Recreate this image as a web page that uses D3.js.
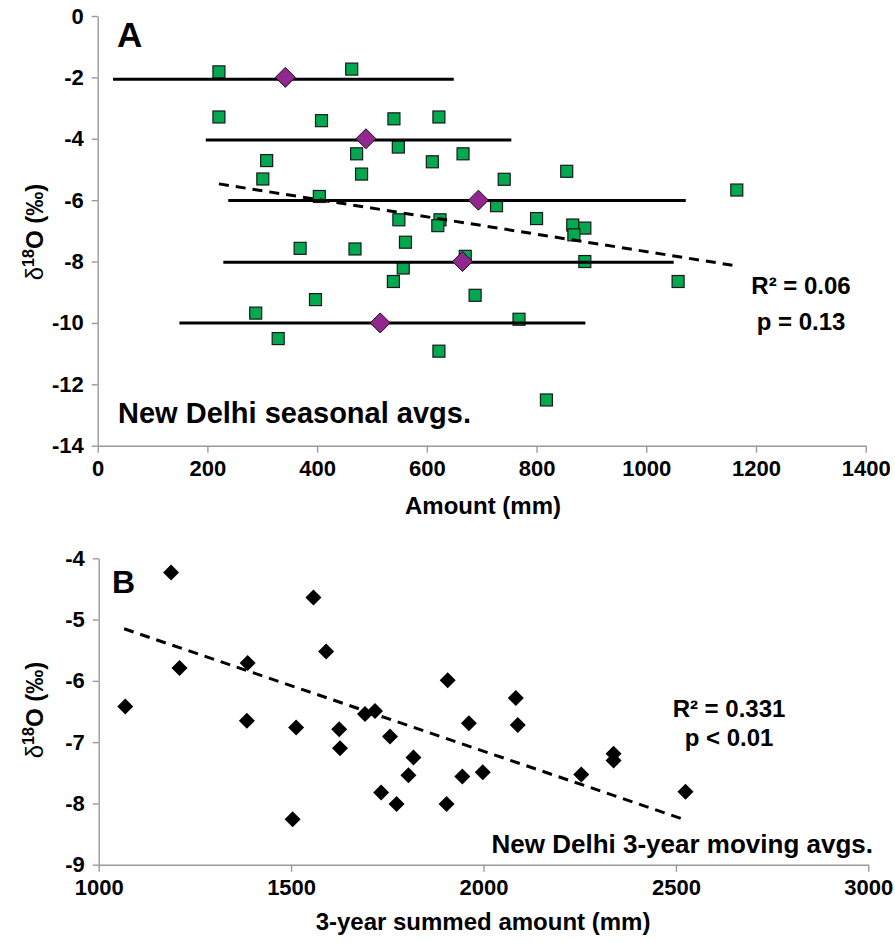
<!DOCTYPE html>
<html>
<head>
<meta charset="utf-8">
<script src="https://cdn.jsdelivr.net/npm/d3@7"></script>
<style>
  body { margin: 0; background: #fff; }
  svg { display: block; font-family: "Liberation Sans", Arial, Helvetica, sans-serif; }
  .axis path, .axis line { stroke: #9a9a9a; stroke-width: 1.4; }
  .axis text { font-size: 22px; font-weight: bold; fill: #000; }
</style>
</head>
<body>
<div id="chart"></div>
<script>
// Panel A: seasonal amount vs d18O (green squares)
const amountA = [221, 463, 221, 408, 540, 622, 308, 472, 548, 610, 666, 301, 481, 741, 855, 1165, 404, 727,
  549, 624, 620, 800, 866, 888, 868, 369, 469, 561, 557, 539, 670, 888, 688, 1058, 397, 288, 329, 622, 768, 818];
const d18oA = [-1.82, -1.73, -3.29, -3.41, -3.35, -3.29, -4.71, -4.49, -4.27, -4.75, -4.49, -5.31, -5.15, -5.32, -5.06, -5.67, -5.88, -6.18,
  -6.64, -6.64, -6.83, -6.60, -6.81, -6.91, -7.13, -7.57, -7.59, -7.37, -8.21, -8.65, -7.83, -8.00, -9.10, -8.65, -9.24, -9.68, -10.51, -10.92, -9.88, -12.51];

// binned means (purple diamonds) and the amount range of each bin
const binY = [-2, -4, -6, -8, -10];
const binMeanX = [342, 489, 694, 665, 515];
const binLineY = [-2.06, -4.04, -6.01, -8.02, -10.0];
const binMinX = [28, 197, 238, 229, 149];
const binMaxX = [649, 754, 1072, 1050, 889];

// dashed regression line, panel A
const trendAX = [221, 1157];
const trendAY = [-5.47, -8.12];

// Panel B: 3-year summed amount vs d18O
const amountB = [1188, 1558, 1591, 1210, 1387, 1069, 1385, 1513, 1625, 1692, 1718, 1757, 1907, 1627, 1818, 1805,
  1734, 1774, 1504, 1904, 2084, 1962, 2089, 1945, 1998, 2254, 2338, 2338, 2525];
const d18oB = [-4.23, -4.64, -5.52, -5.79, -5.71, -6.42, -6.65, -6.76, -6.79, -6.54, -6.49, -6.91, -5.99, -7.10, -7.25, -7.54,
  -7.82, -8.01, -8.26, -8.01, -6.28, -6.69, -6.72, -7.56, -7.49, -7.53, -7.19, -7.30, -7.81];
const trendBX = [1066, 2525];
const trendBY = [-5.15, -8.27];

const ticksAX = [0, 200, 400, 600, 800, 1000, 1200, 1400];
const ticksAY = [0, -2, -4, -6, -8, -10, -12, -14];
const ticksBX = [1000, 1500, 2000, 2500, 3000];
const ticksBY = [-4, -5, -6, -7, -8, -9];

const width = 895, height = 943;

const svg = d3.select("#chart")
  .append("svg")
  .attr("width", width)
  .attr("height", height);

// ---------- scales
const xA = d3.scaleLinear().domain([0, 1400]).range([97.7, 865.7]);
const yA = d3.scaleLinear().domain([0, -14]).range([16, 445.7]);
const xB = d3.scaleLinear().domain([1000, 3000]).range([98.7, 868.3]);
const yB = d3.scaleLinear().domain([-4, -9]).range([558.3, 864.7]);

function fmt(d) { return String(d); }

// ---------- axes A
svg.append("g")
  .attr("class", "axis")
  .attr("transform", "translate(0," + yA(-14) + ")")
  .call(d3.axisBottom(xA).tickValues(ticksAX).tickFormat(fmt).tickSize(7).tickSizeOuter(0).tickPadding(8));

svg.append("g")
  .attr("class", "axis")
  .attr("transform", "translate(" + xA(0) + ",0)")
  .call(d3.axisLeft(yA).tickValues(ticksAY).tickFormat(fmt).tickSize(6).tickSizeOuter(0).tickPadding(8));

// ---------- axes B
svg.append("g")
  .attr("class", "axis")
  .attr("transform", "translate(0," + yB(-9) + ")")
  .call(d3.axisBottom(xB).tickValues(ticksBX).tickFormat(fmt).tickSize(7).tickSizeOuter(0).tickPadding(8));

svg.append("g")
  .attr("class", "axis")
  .attr("transform", "translate(" + xB(1000) + ",0)")
  .call(d3.axisLeft(yB).tickValues(ticksBY).tickFormat(fmt).tickSize(6).tickSizeOuter(0).tickPadding(8));

// ---------- panel A marks
const sq = 12;
svg.append("g")
  .selectAll("rect")
  .data(amountA.map((a, i) => [a, d18oA[i]]))
  .enter()
  .append("rect")
  .attr("x", d => xA(d[0]) - sq / 2)
  .attr("y", d => yA(d[1]) - sq / 2)
  .attr("width", sq)
  .attr("height", sq)
  .attr("fill", "#00a84f")
  .attr("stroke", "#1a1a1a")
  .attr("stroke-width", 1.2);

svg.append("line")
  .attr("x1", xA(trendAX[0])).attr("y1", yA(trendAY[0]))
  .attr("x2", xA(trendAX[1])).attr("y2", yA(trendAY[1]))
  .attr("stroke", "#000")
  .attr("stroke-width", 3)
  .attr("stroke-dasharray", "10,7");

svg.append("g")
  .selectAll("line")
  .data(binLineY)
  .enter()
  .append("line")
  .attr("x1", (d, i) => xA(binMinX[i]))
  .attr("x2", (d, i) => xA(binMaxX[i]))
  .attr("y1", d => yA(d))
  .attr("y2", d => yA(d))
  .attr("stroke", "#000")
  .attr("stroke-width", 3);

const diamond = r => "M0," + (-r) + "L" + r + ",0L0," + r + "L" + (-r) + ",0Z";

svg.append("g")
  .selectAll("path")
  .data(binY)
  .enter()
  .append("path")
  .attr("d", diamond(10))
  .attr("transform", (d, i) => "translate(" + xA(binMeanX[i]) + "," + yA(d) + ")")
  .attr("fill", "#92278f")
  .attr("stroke", "#111")
  .attr("stroke-width", 1);

// ---------- panel B marks
svg.append("line")
  .attr("x1", xB(trendBX[0])).attr("y1", yB(trendBY[0]))
  .attr("x2", xB(trendBX[1])).attr("y2", yB(trendBY[1]))
  .attr("stroke", "#000")
  .attr("stroke-width", 3)
  .attr("stroke-dasharray", "10,7");

svg.append("g")
  .selectAll("path")
  .data(amountB.map((a, i) => [a, d18oB[i]]))
  .enter()
  .append("path")
  .attr("d", diamond(8))
  .attr("transform", d => "translate(" + xB(d[0]) + "," + yB(d[1]) + ")")
  .attr("fill", "#000");

// ---------- texts
function label(x, y, txt, size, anchor) {
  return svg.append("text")
    .attr("x", x).attr("y", y)
    .attr("font-size", size)
    .attr("font-weight", "bold")
    .attr("text-anchor", anchor || "start")
    .text(txt);
}

label(117, 47, "A", 35);
label(112, 593, "B", 32);
label(118, 423, "New Delhi seasonal avgs.", 29);
label(873, 853, "New Delhi 3-year moving avgs.", 26, "end");
label(801, 294, "R² = 0.06", 24, "middle");
label(801, 330, "p = 0.13", 24, "middle");
label(729, 717, "R² = 0.331", 24, "middle");
label(729, 746, "p < 0.01", 24, "middle");
label(483, 514, "Amount (mm)", 24, "middle");
label(483, 930, "3-year summed amount (mm)", 24, "middle");

// rotated y titles
function yTitle(cy) {
  const t = svg.append("text")
    .attr("transform", "translate(43," + cy + ") rotate(-90)")
    .attr("text-anchor", "middle")
    .attr("font-size", 24)
    .attr("font-weight", "bold");
  t.append("tspan").attr("font-weight", "normal").text("δ");
  t.append("tspan").attr("font-size", 16).attr("dy", -9).text("18");
  t.append("tspan").attr("dy", 9).text("O (‰)");
}
yTitle(232);
yTitle(710);
</script>
</body>
</html>
